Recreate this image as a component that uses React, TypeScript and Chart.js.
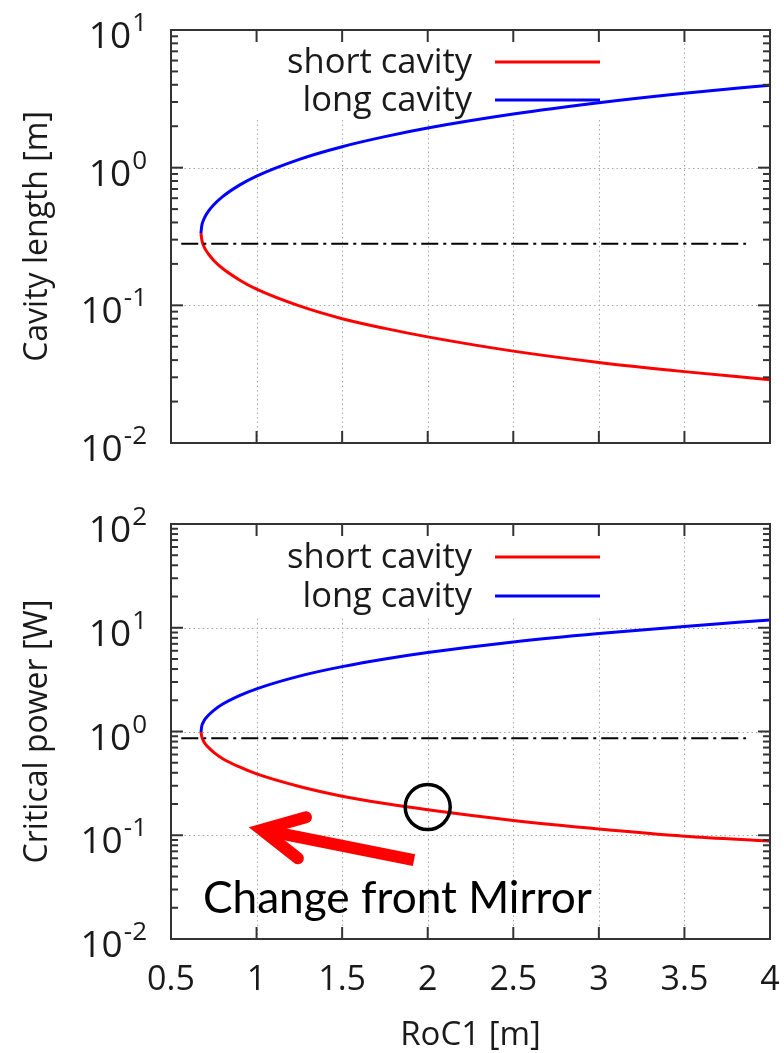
import React, { useEffect, useRef } from 'react';
import { Chart, registerables } from 'chart.js';

Chart.register(...registerables);

// ---------------- data ----------------
const roc = [0.675, 0.68, 0.69, 0.7, 0.72, 0.75, 0.8, 0.9, 1.0, 1.25, 1.5, 1.75, 2.0, 2.5, 3.0, 3.5, 4.0];

const lengthShort = [0.335, 0.3, 0.272, 0.256, 0.235, 0.212, 0.186, 0.153, 0.131, 0.099, 0.08, 0.068, 0.059, 0.0465, 0.0385, 0.033, 0.0288];
const lengthLong = [0.335, 0.38, 0.417, 0.443, 0.485, 0.538, 0.614, 0.747, 0.869, 1.15, 1.42, 1.68, 1.94, 2.45, 2.96, 3.47, 3.97];

const powerShort = [0.99, 0.89, 0.81, 0.76, 0.7, 0.63, 0.55, 0.455, 0.39, 0.295, 0.238, 0.202, 0.176, 0.139, 0.115, 0.098, 0.088];
const powerLong = [0.99, 1.13, 1.24, 1.32, 1.44, 1.6, 1.83, 2.22, 2.58, 3.42, 4.22, 5.0, 5.77, 7.3, 8.8, 10.3, 11.9];

const refX = [0.56, 3.86];
const refLength = [0.28, 0.28];
const refPower = [0.86, 0.86];

const xTickValues = [0.5, 1, 1.5, 2, 2.5, 3, 3.5, 4];
const xTickLabels = ['0.5', '1', '1.5', '2', '2.5', '3', '3.5', '4'];
const decadesTop = [-2, -1, 0, 1];
const decadesBottom = [-2, -1, 0, 1, 2];

const seriesNames = ['short cavity', 'long cavity'];
const xTitle = 'RoC1 [m]';
const yTitleTop = 'Cavity length [m]';
const yTitleBottom = 'Critical power [W]';

// annotation (data coordinates)
const circleAt = { x: 2.0, y: 0.187 };
const arrowTail = { x: 1.92, y: 0.0577 };
const arrowTip = { x: 1.03, y: 0.113 };
const noteText = 'Change front Mirror';

// ---------------- styles ----------------
const W = 784;
const H = 1053;
const RED = '#ff0000';
const BLUE = '#0000ff';
const INK = '#1a1a1a';
const FONT = '"Open Sans", "DejaVu Sans", sans-serif';

type DecorCfg = {
  key: string;
  decades: number[];
  yTitle: string;
  showX: boolean;
  legendY: number[];
  boxH: number;
  note: boolean;
};

function line(ctx: CanvasRenderingContext2D, x1: number, y1: number, x2: number, y2: number) {
  ctx.beginPath();
  ctx.moveTo(x1, y1);
  ctx.lineTo(x2, y2);
  ctx.stroke();
}

function decor(cfg: DecorCfg) {
  return {
    id: 'decor_' + cfg.key,
    beforeDatasetsDraw(chart: any) {
      const { ctx, chartArea: a, scales } = chart;
      const xs = scales.x;
      const ys = scales.y;
      ctx.save();
      ctx.beginPath();
      ctx.rect(a.left, a.top, a.right - a.left, a.bottom - a.top);
      ctx.rect(240, a.top, 615 - 240, cfg.boxH);
      ctx.clip('evenodd');
      ctx.strokeStyle = '#a8a8a8';
      ctx.lineWidth = 1;
      ctx.setLineDash([1.5, 3]);
      for (const v of xTickValues.slice(1, -1)) {
        const px = Math.round(xs.getPixelForValue(v)) + 0.5;
        line(ctx, px, a.top, px, a.bottom);
      }
      for (const d of cfg.decades.slice(1, -1)) {
        const py = Math.round(ys.getPixelForValue(Math.pow(10, d))) + 0.5;
        line(ctx, a.left, py, a.right, py);
      }
      ctx.restore();
    },
    afterDatasetsDraw(chart: any) {
      const { ctx, chartArea: a, scales } = chart;
      const xs = scales.x;
      const ys = scales.y;
      ctx.save();
      ctx.setLineDash([]);
      // ticks
      ctx.strokeStyle = '#333333';
      ctx.lineWidth = 2;
      for (const v of xTickValues.slice(1, -1)) {
        const px = xs.getPixelForValue(v);
        line(ctx, px, a.bottom, px, a.bottom - 12);
        line(ctx, px, a.top, px, a.top + 12);
      }
      cfg.decades.forEach((d, i) => {
        const py = ys.getPixelForValue(Math.pow(10, d));
        line(ctx, a.left, py, a.left + 12, py);
        line(ctx, a.right, py, a.right - 12, py);
        if (i < cfg.decades.length - 1) {
          for (let m = 2; m <= 9; m++) {
            const pm = ys.getPixelForValue(m * Math.pow(10, d));
            line(ctx, a.left, pm, a.left + 7, pm);
            line(ctx, a.right, pm, a.right - 7, pm);
          }
        }
      });
      // border
      ctx.strokeRect(a.left, a.top, a.right - a.left, a.bottom - a.top);

      // y tick labels
      ctx.fillStyle = INK;
      ctx.textBaseline = 'alphabetic';
      ctx.textAlign = 'right';
      for (const d of cfg.decades) {
        const py = ys.getPixelForValue(Math.pow(10, d));
        const exp = String(d);
        ctx.font = `26px ${FONT}`;
        ctx.fillText(exp, 147, py + 1);
        const ew = ctx.measureText(exp).width;
        ctx.font = `37px ${FONT}`;
        ctx.fillText('10', 147 - ew - 1, py + 18);
      }
      // y title
      ctx.save();
      ctx.translate(38, (a.top + a.bottom) / 2);
      ctx.rotate(-Math.PI / 2);
      ctx.textAlign = 'center';
      ctx.textBaseline = 'middle';
      ctx.font = `32px ${FONT}`;
      ctx.fillText(cfg.yTitle, 0, 0);
      ctx.restore();

      // x labels
      if (cfg.showX) {
        ctx.textAlign = 'center';
        ctx.textBaseline = 'alphabetic';
        ctx.font = `34px ${FONT}`;
        xTickValues.forEach((v, i) => {
          ctx.fillText(xTickLabels[i], xs.getPixelForValue(v), 990);
        });
        ctx.font = `33px ${FONT}`;
        ctx.textBaseline = 'middle';
        ctx.fillText(xTitle, (a.left + a.right) / 2, 1036);
      }

      // legend
      ctx.font = `34.5px ${FONT}`;
      ctx.textAlign = 'right';
      ctx.textBaseline = 'middle';
      [RED, BLUE].forEach((c, i) => {
        const y = cfg.legendY[i];
        ctx.fillStyle = INK;
        ctx.fillText(seriesNames[i], 472, y + 1);
        ctx.strokeStyle = c;
        ctx.lineWidth = 3;
        line(ctx, 495, y, 600, y);
      });

      if (cfg.note) {
        // circle
        const cx = xs.getPixelForValue(circleAt.x);
        const cy = ys.getPixelForValue(circleAt.y);
        ctx.strokeStyle = '#000000';
        ctx.lineWidth = 3.5;
        ctx.beginPath();
        ctx.arc(cx, cy, 22.5, 0, Math.PI * 2);
        ctx.stroke();
        // arrow
        const tx = xs.getPixelForValue(arrowTail.x);
        const ty = ys.getPixelForValue(arrowTail.y);
        const hx = xs.getPixelForValue(arrowTip.x);
        const hy = ys.getPixelForValue(arrowTip.y);
        const ang = Math.atan2(ty - hy, tx - hx);
        ctx.strokeStyle = RED;
        ctx.lineWidth = 12;
        ctx.lineCap = 'butt';
        line(ctx, tx, ty, hx + 6 * Math.cos(ang), hy + 6 * Math.sin(ang));
        ctx.lineCap = 'round';
        ctx.lineJoin = 'miter';
        const wl = 46;
        const spread = 0.47;
        ctx.beginPath();
        ctx.moveTo(hx + wl * Math.cos(ang - spread), hy + wl * Math.sin(ang - spread));
        ctx.lineTo(hx, hy);
        ctx.lineTo(hx + wl * Math.cos(ang + spread), hy + wl * Math.sin(ang + spread));
        ctx.stroke();
        // text
        ctx.fillStyle = '#000000';
        ctx.textAlign = 'left';
        ctx.textBaseline = 'alphabetic';
        ctx.font = `100px Lato, "Open Sans", sans-serif`;
        const w100 = ctx.measureText(noteText).width;
        const fs = (100 * 389) / w100;
        ctx.font = `${fs}px Lato, "Open Sans", sans-serif`;
        ctx.fillText(noteText, 203, 913);
      }
      ctx.restore();
    },
  };
}

function pts(xv: number[], yv: number[]) {
  return xv.map((x, i) => ({ x, y: yv[i] }));
}

function makeConfig(
  shortV: number[],
  longV: number[],
  refV: number[],
  yMin: number,
  yMax: number,
  padding: { left: number; right: number; top: number; bottom: number },
  cfg: DecorCfg
): any {
  return {
    type: 'line',
    data: {
      datasets: [
        {
          data: pts(refX, refV),
          borderColor: '#000000',
          borderWidth: 2,
          borderDash: [17, 5, 3, 5],
          pointRadius: 0,
          fill: false,
        },
        {
          data: pts(roc, longV),
          borderColor: BLUE,
          borderWidth: 3,
          pointRadius: 0,
          fill: false,
          cubicInterpolationMode: 'monotone',
        },
        {
          data: pts(roc, shortV),
          borderColor: RED,
          borderWidth: 3,
          pointRadius: 0,
          fill: false,
          cubicInterpolationMode: 'monotone',
        },
      ],
    },
    options: {
      responsive: false,
      animation: false,
      devicePixelRatio: 1,
      layout: { padding },
      plugins: { legend: { display: false }, tooltip: { enabled: false }, title: { display: false } },
      events: [],
      scales: {
        x: { type: 'linear', min: 0.5, max: 4, display: false },
        y: { type: 'logarithmic', min: yMin, max: yMax, display: false },
      },
    },
    plugins: [decor(cfg)],
  };
}

export default function App() {
  const topRef = useRef<HTMLCanvasElement | null>(null);
  const botRef = useRef<HTMLCanvasElement | null>(null);

  useEffect(() => {
    const c1 = new Chart(
      topRef.current as HTMLCanvasElement,
      makeConfig(lengthShort, lengthLong, refLength, 0.01, 10, { left: 171, right: 14, top: 30, bottom: H - 443 }, {
        key: 'top',
        decades: decadesTop,
        yTitle: yTitleTop,
        showX: false,
        legendY: [62, 100],
        boxH: 88,
        note: false,
      })
    );
    const c2 = new Chart(
      botRef.current as HTMLCanvasElement,
      makeConfig(powerShort, powerLong, refPower, 0.01, 100, { left: 171, right: 14, top: 524, bottom: H - 939 }, {
        key: 'bottom',
        decades: decadesBottom,
        yTitle: yTitleBottom,
        showX: true,
        legendY: [557, 596],
        boxH: 93,
        note: true,
      })
    );
    return () => {
      c1.destroy();
      c2.destroy();
    };
  }, []);

  const cs: React.CSSProperties = { position: 'absolute', left: 0, top: 0, width: W, height: H };
  return (
    <div style={{ position: 'absolute', left: 0, top: 0, width: W, height: H, background: '#ffffff' }}>
      <canvas ref={topRef} width={W} height={H} style={cs} />
      <canvas ref={botRef} width={W} height={H} style={cs} />
    </div>
  );
}
